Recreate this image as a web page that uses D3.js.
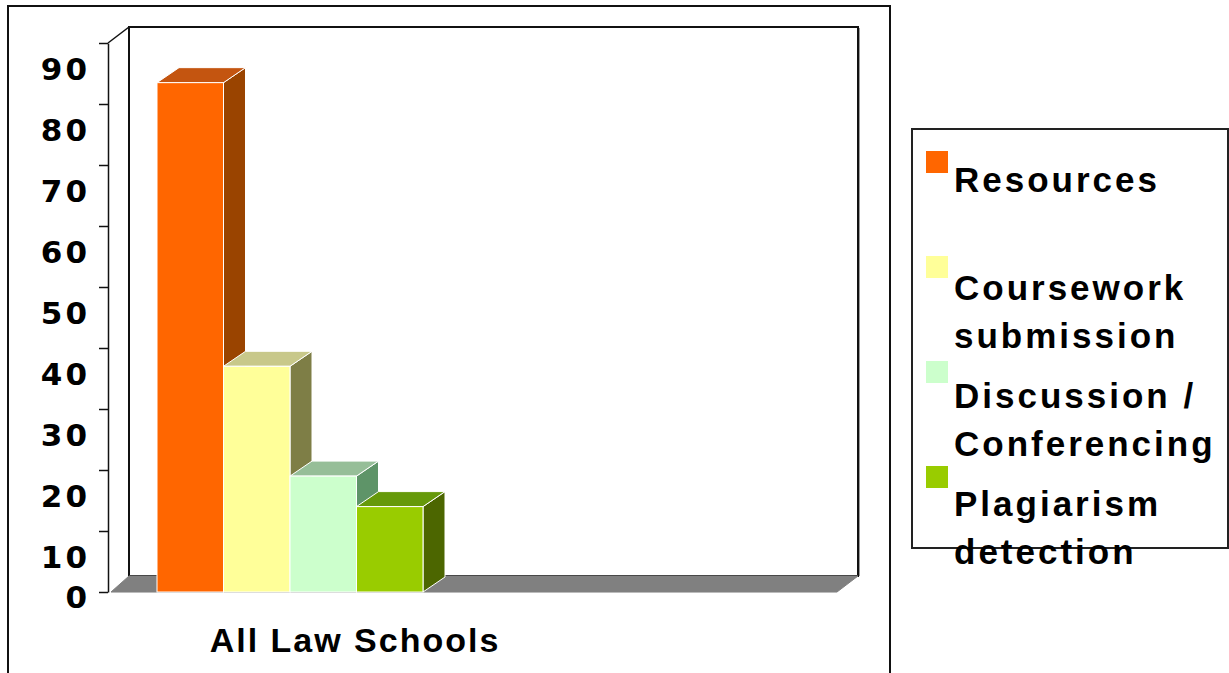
<!DOCTYPE html>
<html><head><meta charset="utf-8">
<script src="https://cdn.jsdelivr.net/npm/d3@7"></script>
<style>body{margin:0;background:#fff} svg{display:block}</style>
</head><body>
<script>
const category = "All Law Schools";
const series = ["Resources", "Coursework submission", "Discussion / Conferencing", "Plagiarism detection"];
const legendLines = [["Resources"], ["Coursework", "submission"], ["Discussion /", "Conferencing"], ["Plagiarism", "detection"]];
const values = [83.5, 37, 19, 14];
const yTicks = [0, 10, 20, 30, 40, 50, 60, 70, 80, 90];
const frontColors = ["#FF6600", "#FFFF99", "#CCFFCC", "#99CC00"];
const sideColors = ["#9A4400", "#7E7E46", "#5E9468", "#4C6600"];
const topColors = ["#C45510", "#C8C88A", "#96BE98", "#66990A"];

const W = 1229, H = 673;
const svg = d3.select("body").append("svg").attr("width", W).attr("height", H);
svg.append("rect").attr("width", W).attr("height", H).attr("fill", "#fff");

const y = d3.scaleLinear().domain([0, 90]).range([592, 43]);
const axisX = 108, floorRight = 837;
const wallDx = 21, wallDy = -16;
const barDx = 22, barDy = -15;
const x = d3.scaleBand().domain(series).range([157, 423]);
const y0 = y(0);

// outer frame
svg.append("rect").attr("x", 8).attr("y", 6).attr("width", 882).attr("height", 720)
  .attr("fill", "none").attr("stroke", "#111").attr("stroke-width", 2);

// back wall
svg.append("rect").attr("x", axisX + wallDx).attr("y", y(90) + wallDy)
  .attr("width", floorRight - axisX).attr("height", y0 - y(90))
  .attr("fill", "#fff").attr("stroke", "#111").attr("stroke-width", 2);
svg.append("line").attr("x1", floorRight + wallDx + 1.5).attr("x2", floorRight + wallDx + 1.5)
  .attr("y1", y(90) + wallDy + 1).attr("y2", y0 + wallDy)
  .attr("stroke", "#999").attr("stroke-width", 1);

// left wall top slant
svg.append("line").attr("x1", axisX).attr("y1", y(90)).attr("x2", axisX + wallDx).attr("y2", y(90) + wallDy)
  .attr("stroke", "#111").attr("stroke-width", 1.5);

// floor
const floorPts = [[axisX + 3, y0], [floorRight, y0], [floorRight + wallDx, y0 + wallDy], [axisX + wallDx, y0 + wallDy]];
svg.append("polygon").attr("points", floorPts.map(p => p.join(",")).join(" "))
  .attr("fill", "#808080").attr("stroke", "#808080").attr("stroke-width", 1);
svg.append("line").attr("x1", axisX + 3).attr("x2", floorRight).attr("y1", y0 + 0.5).attr("y2", y0 + 0.5)
  .attr("stroke", "#bbb").attr("stroke-width", 1);

// y axis
const yAxis = d3.axisLeft(y).tickValues(yTicks).tickSize(9).tickSizeOuter(0).tickPadding(9);
const gy = svg.append("g").attr("transform", `translate(${axisX},0)`).call(yAxis);
gy.select(".domain").attr("stroke", "#111").attr("stroke-width", 1.5);
gy.selectAll(".tick line").attr("stroke", "#111").attr("stroke-width", 1.5);
gy.selectAll(".tick text")
  .attr("dy", d => d === 0 ? 15.5 : 36.5)
  .attr("fill", "#000")
  .style("font-family", "'DejaVu Sans', sans-serif")
  .style("font-weight", "bold")
  .style("font-size", "31px")
  .style("letter-spacing", "3px");

// bars
series.forEach((s, i) => {
  const x0 = x(s), x1 = x0 + x.bandwidth(), yt = y(values[i]);
  const side = [[x1, yt], [x1 + barDx, yt + barDy], [x1 + barDx, y0 + barDy], [x1, y0]];
  const top = [[x0, yt], [x0 + barDx, yt + barDy], [x1 + barDx, yt + barDy], [x1, yt]];
  svg.append("polygon").attr("points", side.map(p => p.join(",")).join(" "))
    .attr("fill", sideColors[i]).attr("stroke", "#fff").attr("stroke-width", 1);
  svg.append("polygon").attr("points", top.map(p => p.join(",")).join(" "))
    .attr("fill", topColors[i]).attr("stroke", "#fff").attr("stroke-width", 1);
  svg.append("rect").attr("x", x0).attr("y", yt).attr("width", x.bandwidth()).attr("height", y0 - yt)
    .attr("fill", frontColors[i]).attr("stroke", "#fff").attr("stroke-width", 1);
});

// category label
svg.append("text").attr("x", 355).attr("y", 652).attr("text-anchor", "middle")
  .style("font-family", "'Liberation Sans', Arial, sans-serif").style("font-weight", "bold")
  .style("font-size", "34px").style("letter-spacing", "2px")
  .text(category);

// legend
svg.append("rect").attr("x", 912).attr("y", 129).attr("width", 316).attr("height", 419)
  .attr("fill", "#fff").attr("stroke", "#222").attr("stroke-width", 2);
series.forEach((s, i) => {
  svg.append("rect").attr("x", 926).attr("y", 151 + i * 105).attr("width", 22).attr("height", 22)
    .attr("fill", frontColors[i]);
  const t = svg.append("text").attr("x", 954).attr("y", 192 + i * 108)
    .style("font-family", "'Liberation Sans', Arial, sans-serif").style("font-weight", "bold")
    .style("font-size", "35px").style("letter-spacing", "3px");
  legendLines[i].forEach((ln, j) => {
    t.append("tspan").attr("x", 954).attr("dy", j === 0 ? 0 : 48).text(ln);
  });
});
</script>
</body></html>
